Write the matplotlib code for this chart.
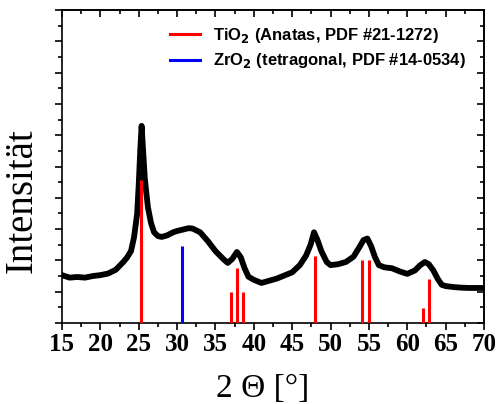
import numpy as np
import matplotlib.pyplot as plt
from matplotlib.ticker import MultipleLocator, NullFormatter

# measured XRD pattern (2theta in degrees, intensity in arbitrary units)
two_theta = [15, 16, 17, 18, 19, 20, 21, 22, 23, 23.5, 24, 24.4, 24.8, 25.0,
             25.2, 25.38, 25.55, 25.8, 26.2, 26.6, 27, 27.5, 28, 28.7, 29.5,
             30, 31, 31.5, 32, 33, 34, 35, 36, 36.6, 37.2, 37.8, 38.3, 38.8,
             39.3, 40, 41, 42, 43, 44, 45, 46, 46.8, 47.4, 47.85, 48.3, 48.8,
             49.5, 50, 51, 52, 53, 53.7, 54.3, 54.8, 55.3, 55.8, 56.3, 57, 58,
             59, 60, 61, 61.7, 62.3, 62.8, 63.4, 64, 64.5, 65, 66, 67, 68, 69,
             70]
intensity = [1.53, 1.45, 1.47, 1.45, 1.5, 1.53, 1.58, 1.7, 1.95, 2.1, 2.3,
             2.75, 3.5, 4.4, 5.5, 6.3, 5.6, 4.6, 3.7, 3.2, 2.9, 2.78, 2.75,
             2.8, 2.9, 2.94, 3.0, 3.03, 3.02, 2.9, 2.62, 2.3, 2.05, 1.92,
             2.05, 2.27, 2.1, 1.75, 1.48, 1.38, 1.28, 1.35, 1.42, 1.52, 1.62,
             1.85, 2.15, 2.5, 2.9, 2.65, 2.3, 1.95, 1.85, 1.88, 1.95, 2.12,
             2.4, 2.65, 2.7, 2.45, 2.1, 1.85, 1.78, 1.75, 1.65, 1.57, 1.68,
             1.85, 1.95, 1.88, 1.68, 1.4, 1.22, 1.18, 1.15, 1.13, 1.12, 1.12,
             1.12]

# reference patterns
tio2_pos = [25.3, 37.0, 37.85, 38.65, 48.0, 54.05, 54.95, 62.1, 62.8]
tio2_int = [4.57, 1.0, 1.77, 1.0, 2.15, 2.01, 2.01, 0.49, 1.4]
zro2_pos = [30.65]
zro2_int = [2.46]

plt.rcParams['font.family'] = ['Liberation Serif', 'DejaVu Serif']

fig = plt.figure(figsize=(4.97, 4.04), dpi=100)
ax = fig.add_axes([0.1247, 0.2005, 0.8491, 0.7745])

ax.plot(two_theta, intensity, color='black', lw=4.2, zorder=2)
ax.vlines(tio2_pos, 0, tio2_int, color='#ff0000', lw=2.2, zorder=3)
ax.vlines(zro2_pos, 0, zro2_int, color='#0000ff', lw=2.2, zorder=3)

# legend entries
ax.plot([], [], color='#ff0000', lw=2.2,
        label='TiO$_\\mathbf{2}$ (Anatas, PDF #21-1272)')
ax.plot([], [], color='#0000ff', lw=2.2,
        label='ZrO$_\\mathbf{2}$ (tetragonal, PDF #14-0534)')
ax.legend(loc='upper left', bbox_to_anchor=(0.256, 0.95), frameon=False,
          borderpad=0, borderaxespad=0, handlelength=1.8, handletextpad=0.78,
          labelspacing=0.4,
          prop={'family': 'Liberation Sans', 'weight': 'bold', 'size': 12})

ax.set_xlim(15, 70)
ax.set_ylim(0, 10)
ax.xaxis.set_major_locator(MultipleLocator(5))
ax.xaxis.set_minor_locator(MultipleLocator(2.5))
ax.yaxis.set_major_locator(MultipleLocator(1))
ax.yaxis.set_minor_locator(MultipleLocator(0.5))
ax.yaxis.set_major_formatter(NullFormatter())

ax.tick_params(which='both', direction='out', top=False, right=False,
               width=1.2)
ax.tick_params(which='major', length=5)
ax.tick_params(which='minor', length=3)
for lab in ax.get_xticklabels():
    lab.set_fontweight('bold')
    lab.set_fontsize(18)
ax.tick_params(axis='x', pad=2)

# mirrored inward ticks on top and right
ax_top = ax.secondary_xaxis('top')
ax_top.xaxis.set_major_locator(MultipleLocator(5))
ax_top.xaxis.set_minor_locator(MultipleLocator(2.5))
ax_top.tick_params(which='both', direction='in', labeltop=False, width=1.2)
ax_top.tick_params(which='major', length=5)
ax_top.tick_params(which='minor', length=3)
ax_right = ax.secondary_yaxis('right')
ax_right.yaxis.set_major_locator(MultipleLocator(1))
ax_right.yaxis.set_minor_locator(MultipleLocator(0.5))
ax_right.tick_params(which='both', direction='in', labelright=False, width=1.2)
ax_right.tick_params(which='major', length=5)
ax_right.tick_params(which='minor', length=3)

for sp in list(ax.spines.values()) + [ax_top.spines['top'],
                                      ax_right.spines['right']]:
    sp.set_linewidth(1.2)

# axis titles
fig.text(263 / 497, 1 - 397 / 404, '2 Θ [°]', fontsize=24,
         ha='center', va='baseline')
fig.text(22 / 497, 1 - 201 / 404, 'Intensität', fontsize=28,
         rotation=90, ha='center', va='center')

fig.savefig('out.png', dpi=100)
